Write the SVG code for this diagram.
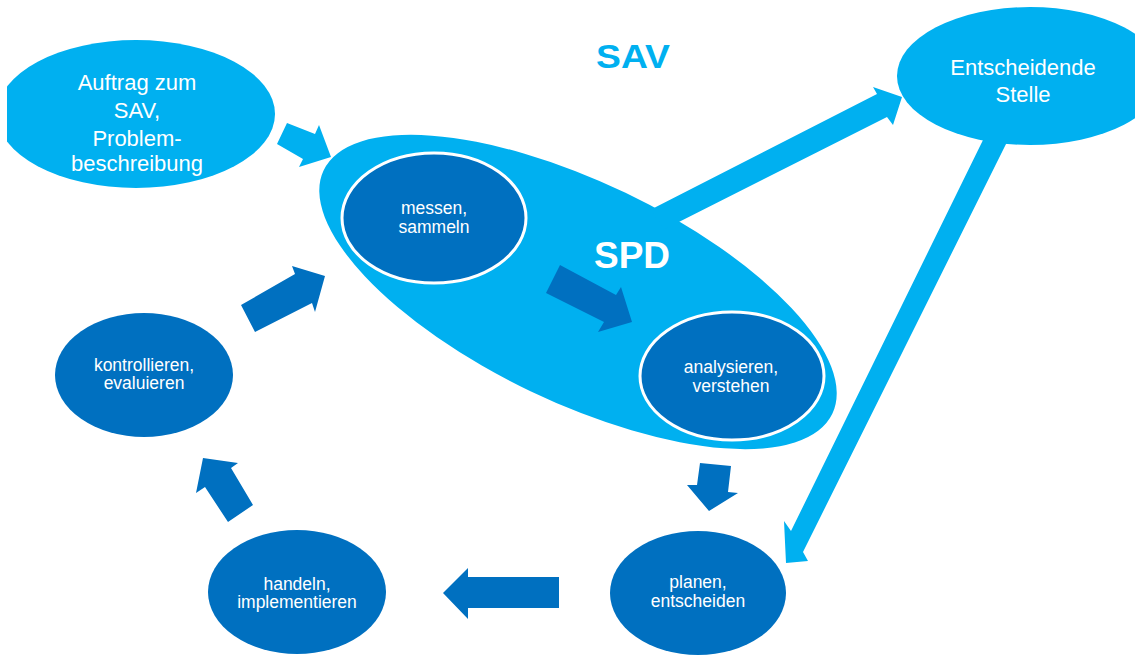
<svg xmlns="http://www.w3.org/2000/svg" width="1135" height="656" viewBox="0 0 1135 656">
  <defs>
    <style>
      .light { fill: #00B0F0; }
      .dark { fill: #0070C0; }
      .ring { fill: #0070C0; stroke: #FFFFFF; stroke-width: 3; }
      .t { font-family: "Liberation Sans", Arial, sans-serif; fill: #FFFFFF; text-anchor: middle; }
      .big { font-size: 22px; }
      .small { font-size: 17.5px; }
      .head { font-family: "Liberation Sans", Arial, sans-serif; font-weight: bold; text-anchor: middle; }
    </style>
    <clipPath id="leftEdge">
      <rect x="7" y="0" width="1128" height="656"/>
    </clipPath>
  </defs>

  <rect x="0" y="0" width="1135" height="656" fill="#FFFFFF"/>

  <!-- title -->
  <g id="title-sav">
    <text class="head" x="633" y="68" font-size="34" fill="#00B0F0" textLength="74" lengthAdjust="spacingAndGlyphs">SAV</text>
  </g>

  <!-- request / problem statement -->
  <g id="node-auftrag">
    <ellipse class="light" cx="136" cy="114" rx="139" ry="74" clip-path="url(#leftEdge)"/>
    <text class="t big" x="137" y="90">Auftrag zum</text>
    <text class="t big" x="137" y="118">SAV,</text>
    <text class="t big" x="137" y="146">Problem-</text>
    <text class="t big" x="137" y="171">beschreibung</text>
  </g>

  <!-- decision-making body -->
  <g id="node-entscheidende-stelle">
    <ellipse class="light" cx="1030" cy="76" rx="133" ry="69"/>
    <text class="t big" x="1023" y="75">Entscheidende</text>
    <text class="t big" x="1023" y="102">Stelle</text>
  </g>

  <!-- SPD container with its two inner steps -->
  <g id="node-spd">
    <ellipse class="light" cx="578" cy="292" rx="282" ry="110" transform="rotate(25.6 578 292)"/>
    <text class="head" x="632" y="268" font-size="37" fill="#FFFFFF">SPD</text>
  </g>
  <g id="node-messen">
    <ellipse class="ring" cx="434" cy="218" rx="92" ry="65"/>
    <text class="t small" x="434" y="214">messen,</text>
    <text class="t small" x="434" y="233">sammeln</text>
  </g>
  <g id="node-analysieren">
    <ellipse class="ring" cx="732" cy="376" rx="92" ry="64"/>
    <text class="t small" x="731" y="373">analysieren,</text>
    <text class="t small" x="731" y="392">verstehen</text>
  </g>

  <!-- cycle steps -->
  <g id="node-planen">
    <ellipse class="dark" cx="698" cy="593" rx="88" ry="62"/>
    <text class="t small" x="698" y="588">planen,</text>
    <text class="t small" x="698" y="607">entscheiden</text>
  </g>
  <g id="node-handeln">
    <ellipse class="dark" cx="297" cy="592" rx="89" ry="62"/>
    <text class="t small" x="297" y="590">handeln,</text>
    <text class="t small" x="297" y="608">implementieren</text>
  </g>
  <g id="node-kontrollieren">
    <ellipse class="dark" cx="144" cy="375" rx="89" ry="62"/>
    <text class="t small" x="144" y="371">kontrollieren,</text>
    <text class="t small" x="144" y="389">evaluieren</text>
  </g>

  <!-- block arrows -->
  <g id="connectors">
    <polygon class="light" points="287,123 315,134 319,125 331,157 299,167 303,159 277,144"/>
    <polygon class="light" points="650,210 877,94 873,87 902,97 893,125 887,117 665,229"/>
    <polygon class="light" points="984,138 791,531 784,521 786,563 808,561 803,552 1008,140"/>
    <polygon class="dark" points="560,265 616,295 621,287 632,322 598,332 604,322 546,293"/>
    <polygon class="dark" points="700,463 731,466 728,492 738,493 709,511 687,485 697,485"/>
    <polygon class="dark" points="559,577 559,608 468,608 468,619 443,593 468,568 468,577"/>
    <polygon class="dark" points="228,522 205,487 196,493 203,458 238,463 231,468 253,505"/>
    <polygon class="dark" points="241,305 295,274 292,266 325,276 315,312 312,303 255,332"/>
  </g>
</svg>
